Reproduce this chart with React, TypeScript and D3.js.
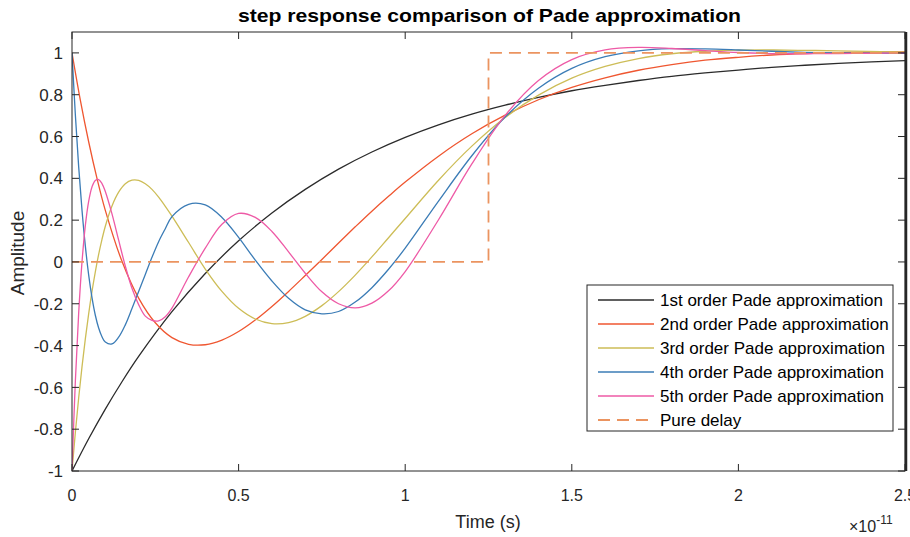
import React from 'react';
import * as d3 from 'd3';

const W = 910;
const H = 537;
const PLOT = { left: 72, right: 905, top: 32, bottom: 471 };

const TITLE = 'step response comparison of Pade approximation';
const X_LABEL = 'Time (s)';
const Y_LABEL = 'Amplitude';

const xTicks = [0, 0.5, 1, 1.5, 2, 2.5];
const xTickLabels = ['0', '0.5', '1', '1.5', '2', '2.5'];
const yTicks = [-1, -0.8, -0.6, -0.4, -0.2, 0, 0.2, 0.4, 0.6, 0.8, 1];
const yTickLabels = ['-1', '-0.8', '-0.6', '-0.4', '-0.2', '0', '0.2', '0.4', '0.6', '0.8', '1'];

const seriesNames = [
  '1st order Pade approximation',
  '2nd order Pade approximation',
  '3rd order Pade approximation',
  '4th order Pade approximation',
  '5th order Pade approximation',
  'Pure delay',
];
const seriesColors = ['#2b2b2b', '#ef5630', '#cdbd57', '#3b7cb6', '#ee5aa6', '#eb9460'];

// time in units of 1e-11 s, amplitude
const order1: [number, number][] = [
  [0, -1], [0.05, -0.846], [0.1, -0.704], [0.15, -0.573], [0.2, -0.452], [0.3, -0.238],
  [0.4, -0.055], [0.5, 0.101], [0.6, 0.234], [0.7, 0.347], [0.8, 0.444], [0.9, 0.526],
  [1.0, 0.596], [1.1, 0.656], [1.2, 0.707], [1.3, 0.75], [1.4, 0.787], [1.5, 0.819],
  [1.6, 0.845], [1.7, 0.868], [1.8, 0.888], [1.9, 0.904], [2.0, 0.918], [2.1, 0.931],
  [2.2, 0.941], [2.3, 0.95], [2.4, 0.957], [2.5, 0.963],
];

const order2: [number, number][] = [
  [0, 1], [0.025, 0.774], [0.05, 0.575], [0.075, 0.4], [0.1, 0.247], [0.15, 0.003],
  [0.2, -0.173], [0.25, -0.291], [0.3, -0.362], [0.35, -0.394], [0.4, -0.396],
  [0.45, -0.374], [0.5, -0.333], [0.55, -0.278], [0.6, -0.213], [0.65, -0.141],
  [0.7, -0.065], [0.75, 0.012], [0.8, 0.091], [0.85, 0.168], [0.9, 0.243], [0.95, 0.314],
  [1.0, 0.382], [1.1, 0.506], [1.2, 0.613], [1.3, 0.702], [1.4, 0.776], [1.5, 0.835],
  [1.6, 0.881], [1.7, 0.917], [1.8, 0.944], [1.9, 0.965], [2.0, 0.979], [2.1, 0.99],
  [2.2, 0.997], [2.3, 1.001], [2.4, 1.004], [2.5, 1.005],
];

const order3: [number, number][] = [
  [0, -1], [0.01, -0.817], [0.02, -0.651], [0.03, -0.502], [0.04, -0.368], [0.05, -0.248],
  [0.06, -0.141], [0.07, -0.047], [0.08, 0.036], [0.09, 0.108], [0.1, 0.171], [0.12, 0.268],
  [0.14, 0.334], [0.16, 0.374], [0.18, 0.391], [0.2, 0.39], [0.22, 0.374], [0.24, 0.347],
  [0.26, 0.31], [0.28, 0.266], [0.3, 0.219], [0.35, 0.093], [0.4, -0.034], [0.45, -0.141],
  [0.5, -0.222], [0.55, -0.273], [0.6, -0.295], [0.65, -0.29], [0.7, -0.26], [0.75, -0.209],
  [0.8, -0.142], [0.85, -0.063], [0.9, 0.024], [0.95, 0.116], [1.0, 0.208], [1.1, 0.391],
  [1.2, 0.554], [1.3, 0.691], [1.4, 0.798], [1.5, 0.879], [1.6, 0.935], [1.7, 0.973],
  [1.8, 0.996], [1.9, 1.008], [2.0, 1.013], [2.1, 1.014], [2.2, 1.012], [2.3, 1.01],
  [2.5, 1.004],
];

const order4: [number, number][] = [
  [0, 1], [0.01, 0.705], [0.02, 0.456], [0.03, 0.248], [0.04, 0.077], [0.05, -0.062],
  [0.06, -0.171], [0.07, -0.255], [0.08, -0.316], [0.09, -0.358], [0.1, -0.383],
  [0.12, -0.392], [0.14, -0.36], [0.16, -0.301], [0.18, -0.223], [0.2, -0.141],
  [0.22, -0.06], [0.24, 0.022], [0.26, 0.097], [0.28, 0.159], [0.3, 0.217], [0.35, 0.276],
  [0.4, 0.273], [0.45, 0.213], [0.5, 0.118], [0.55, 0.009], [0.6, -0.091], [0.65, -0.174],
  [0.7, -0.229], [0.75, -0.248], [0.8, -0.237], [0.85, -0.192], [0.9, -0.123],
  [0.95, -0.035], [1.0, 0.066], [1.1, 0.291], [1.2, 0.508], [1.3, 0.693], [1.4, 0.831],
  [1.5, 0.926], [1.6, 0.982], [1.7, 1.01], [1.8, 1.02], [1.9, 1.019], [2.0, 1.014],
  [2.1, 1.008], [2.2, 1.003], [2.3, 1.0], [2.5, 0.998],
];

const order5: [number, number][] = [
  [0, -1], [0.01, -0.573], [0.02, -0.246], [0.03, -0.001], [0.04, 0.174], [0.05, 0.29],
  [0.06, 0.359], [0.07, 0.39], [0.08, 0.394], [0.09, 0.375], [0.1, 0.337], [0.12, 0.23],
  [0.14, 0.104], [0.16, -0.02], [0.18, -0.126], [0.2, -0.204], [0.22, -0.259],
  [0.24, -0.279], [0.26, -0.282], [0.28, -0.262], [0.3, -0.221], [0.35, -0.071],
  [0.4, 0.066], [0.45, 0.18], [0.5, 0.232], [0.55, 0.213], [0.6, 0.146], [0.65, 0.048],
  [0.7, -0.054], [0.75, -0.143], [0.8, -0.2], [0.85, -0.22], [0.9, -0.197], [0.95, -0.138],
  [1.0, -0.046], [1.1, 0.202], [1.2, 0.469], [1.3, 0.701], [1.4, 0.868], [1.5, 0.968],
  [1.6, 1.014], [1.7, 1.026], [1.8, 1.021], [1.9, 1.011], [2.0, 1.002], [2.1, 0.997],
  [2.2, 0.996], [2.3, 0.997], [2.4, 0.998], [2.5, 1.0],
];

const pureDelay: [number, number][] = [
  [0, 0], [1.25, 0], [1.25, 1], [2.5, 1],
];

const smoothSeries = [order1, order2, order3, order4, order5];

const FONT = "'Liberation Sans', Arial, Helvetica, sans-serif";

export default function App() {
  const x = d3.scaleLinear().domain([0, 2.5]).range([PLOT.left, PLOT.right]);
  const y = d3.scaleLinear().domain([-1, 1.1]).range([PLOT.bottom, PLOT.top]);

  const smoothLine = d3
    .line<[number, number]>()
    .x((d) => x(d[0]))
    .y((d) => y(d[1]))
    .curve(d3.curveCatmullRom.alpha(0.5));
  const straightLine = d3
    .line<[number, number]>()
    .x((d) => x(d[0]))
    .y((d) => y(d[1]));

  const axisColor = '#262626';
  const tickLen = 7;

  const legend = { x: 587, y: 285, w: 306, h: 146, rowH: 24 };

  return (
    <svg
      width={W}
      height={H}
      style={{ position: 'absolute', left: 0, top: 0, background: '#fff' }}
      fontFamily={FONT}
    >
      <rect x={0} y={0} width={W} height={H} fill="#fff" />
      <defs>
        <clipPath id="plotClip">
          <rect x={PLOT.left} y={PLOT.top} width={PLOT.right - PLOT.left} height={PLOT.bottom - PLOT.top} />
        </clipPath>
      </defs>

      {/* title */}
      <text
        x={238}
        y={22}
        fontSize={19}
        fontWeight="bold"
        fill="#000"
        textLength={503}
        lengthAdjust="spacingAndGlyphs"
      >
        {TITLE}
      </text>

      {/* curves */}
      <g clipPath="url(#plotClip)">
        {smoothSeries.map((s, i) => (
          <path key={i} d={smoothLine(s) || ''} fill="none" stroke={seriesColors[i]} strokeWidth={1.3} />
        ))}
        <path
          d={straightLine(pureDelay) || ''}
          fill="none"
          stroke={seriesColors[5]}
          strokeWidth={1.8}
          strokeDasharray="12,7"
        />
      </g>

      {/* frame */}
      <rect
        x={PLOT.left}
        y={PLOT.top}
        width={PLOT.right - PLOT.left}
        height={PLOT.bottom - PLOT.top}
        fill="none"
        stroke={axisColor}
        strokeWidth={1}
      />
      <line x1={PLOT.right + 1} x2={PLOT.right + 1} y1={PLOT.top} y2={PLOT.bottom} stroke={axisColor} strokeWidth={2.5} />

      {/* x ticks */}
      {xTicks.map((t, i) => (
        <g key={'xt' + i}>
          <line x1={x(t)} x2={x(t)} y1={PLOT.bottom} y2={PLOT.bottom - tickLen} stroke={axisColor} />
          <line x1={x(t)} x2={x(t)} y1={PLOT.top} y2={PLOT.top + tickLen} stroke={axisColor} />
          <text x={x(t)} y={501} textAnchor="middle" fontSize={16} fill={axisColor}>
            {xTickLabels[i]}
          </text>
        </g>
      ))}

      {/* y ticks */}
      {yTicks.map((t, i) => (
        <g key={'yt' + i}>
          <line x1={PLOT.left} x2={PLOT.left + tickLen} y1={y(t)} y2={y(t)} stroke={axisColor} />
          <line x1={PLOT.right} x2={PLOT.right - tickLen} y1={y(t)} y2={y(t)} stroke={axisColor} />
          <text x={63} y={y(t)} dy="0.36em" textAnchor="end" fontSize={17} fill={axisColor}>
            {yTickLabels[i]}
          </text>
        </g>
      ))}

      {/* axis labels */}
      <text x={488} y={528} textAnchor="middle" fontSize={18} fill={axisColor}>
        {X_LABEL}
      </text>
      <text
        transform="translate(24, 253) rotate(-90)"
        textAnchor="middle"
        fontSize={19}
        fill={axisColor}
      >
        {Y_LABEL}
      </text>
      <text x={849} y={532} fontSize={16} fill={axisColor}>
        {'\u00d710'}
        <tspan dy={-8} fontSize={12}>
          -11
        </tspan>
      </text>

      {/* legend */}
      <rect x={legend.x} y={legend.y} width={legend.w} height={legend.h} fill="#fff" stroke={axisColor} strokeWidth={1} />
      {seriesNames.map((name, i) => {
        const cy = legend.y + 15 + i * legend.rowH;
        return (
          <g key={'lg' + i}>
            <line
              x1={legend.x + 11}
              x2={legend.x + 67}
              y1={cy}
              y2={cy}
              stroke={seriesColors[i]}
              strokeWidth={i === 5 ? 1.8 : 1.5}
              strokeDasharray={i === 5 ? '12,7' : undefined}
            />
            <text x={legend.x + 73} y={cy} dy="0.36em" fontSize={17} fill="#000">
              {name}
            </text>
          </g>
        );
      })}
    </svg>
  );
}
